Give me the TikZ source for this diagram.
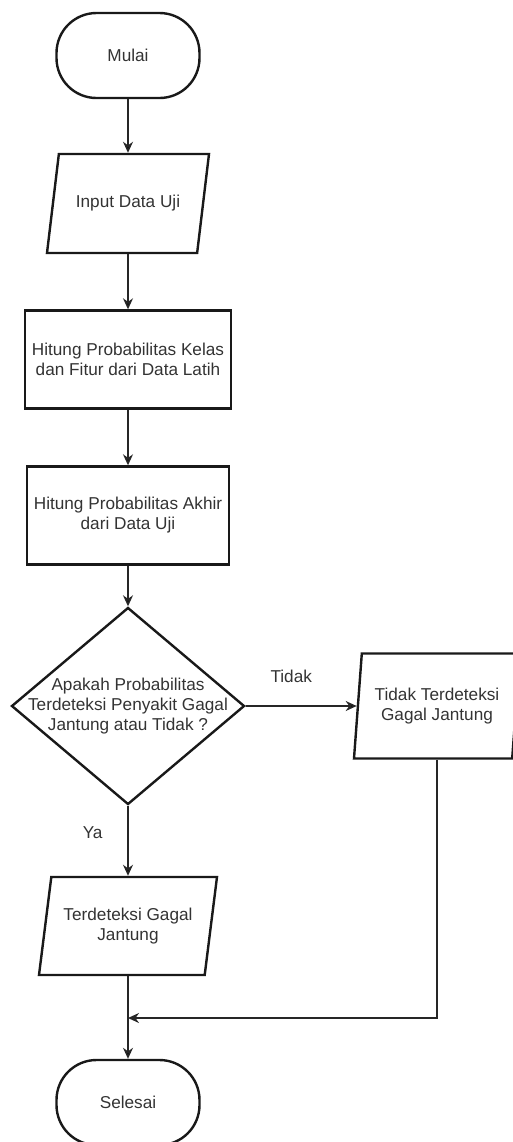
\documentclass[tikz,border=0pt]{standalone}
\usepackage{fontspec}
\setmainfont{Liberation Sans}
\usetikzlibrary{shapes.geometric,arrows.meta}

\begin{document}
\begin{tikzpicture}[x=0.5pt, y=-0.5pt,
    font=\fontsize{8.6}{10}\selectfont,
    every node/.style = {text=black!80},
    terminal/.style = {rectangle, rounded corners=20pt, draw=black!90, line width=1.2pt, minimum width=71.5pt, minimum height=42.5pt},
    proses/.style = {rectangle, draw=black!90, line width=1.2pt, minimum width=99pt, minimum height=49pt, align=center},
    io/.style = {trapezium, trapezium stretches body, draw=black!90, line width=1.2pt, inner xsep=1pt, align=center},
    decision/.style = {diamond, draw=black!90, line width=1.2pt, minimum width=116.5pt, minimum height=98.5pt, inner sep=0pt},
    arrow/.style = {-{Stealth[length=5.5pt,width=5pt]}, line width=0.8pt, draw=black!85}]
    \useasboundingbox (0,0) rectangle (513,1142);
    \node[terminal] (mulai) at (128,55.5) {Mulai};
    \node[io, trapezium left angle=68, trapezium right angle=112, minimum width=81pt, minimum height=49.5pt] (input) at (128,203.5) {Input Data Uji};
    \node[proses] (hitung1) at (128,359.5) {Hitung Probabilitas Kelas\\dan Fitur dari Data Latih};
    \node[proses] (hitung2) at (128,515.5) {Hitung Probabilitas Akhir\\dari Data Uji};
    \node[decision] (cek) at (128,706) {};
    \node[align=center] (cekteks) at (cek) {Apakah Probabilitas\\Terdeteksi Penyakit Gagal\\Jantung atau Tidak ?};
    \node[io, trapezium left angle=81, trapezium right angle=99, minimum width=83pt, minimum height=52.5pt] (tidak) at (437,706) {Tidak Terdeteksi\\Gagal Jantung};
    \node[io, trapezium left angle=76, trapezium right angle=104, minimum width=89pt, minimum height=49pt] (terdeteksi) at (128,926) {Terdeteksi Gagal\\Jantung};
    \node[terminal] (selesai) at (128,1102.5) {Selesai};
    \coordinate (gabung) at (128,1018);

    \path[arrow] (mulai) edge (input);
    \path[arrow] (input) edge (hitung1);
    \path[arrow] (hitung1) edge (hitung2);
    \path[arrow] (hitung2) edge (cek);
    \path[arrow] (cek) edge node[pos=0.41, above=8pt] {Tidak} (tidak);
    \path[arrow] (cek) edge node[pos=0.39, left=9pt] {Ya} (terdeteksi);
    \path[arrow] (terdeteksi) edge (selesai);
    \draw[arrow] (tidak.center |- tidak.south) |- (gabung);
\end{tikzpicture}
\end{document}
